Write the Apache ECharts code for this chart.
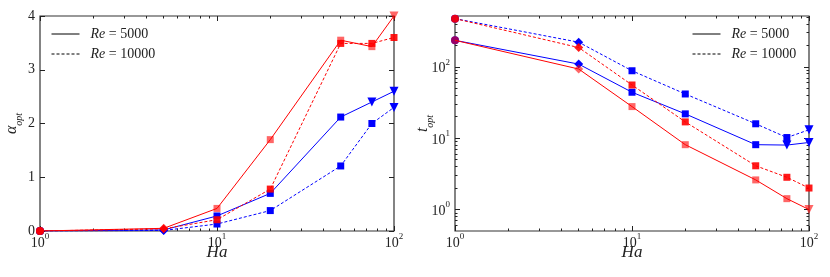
<!DOCTYPE html>
<html><head><meta charset="utf-8">
<script src="https://cdn.jsdelivr.net/npm/echarts@6/dist/echarts.min.js"></script>
<style>html,body{margin:0;padding:0;background:#fff}#c{width:830px;height:277px}</style>
</head><body><div id="c"></div>
<script>
const ha = [1, 5, 10, 20, 50, 75, 100];
// alpha_opt (left)
const alphaRe5000A = [0, 0.05, 0.42, 1.70, 3.55, 3.43, 4.00];
const alphaRe10000A = [0, 0.04, 0.21, 0.78, 3.49, 3.49, 3.60];
const alphaRe5000B = [0, 0.02, 0.28, 0.70, 2.12, 2.40, 2.60];
const alphaRe10000B = [0, 0.01, 0.13, 0.38, 1.21, 2.00, 2.30];
// t_opt (right)
const tRe5000A = [235, 93, 27.7, 8.1, 2.6, 1.42, 1.0];
const tRe10000A = [473, 186, 55.6, 16.9, 4.1, 2.83, 2.0];
const tRe5000B = [235, 109, 44, 21.9, 8.1, 8.0, 8.7];
const tRe10000B = [473, 221, 88, 41.6, 15.9, 10.2, 13.1];
const markers = ['circle', 'diamond', 'rect', 'rect', 'rect', 'rect', 'rect'];
const lastMarkers = {
  aR5: ['rect', 'triangle-down'], aR10: ['rect', 'rect'], aB5: ['triangle-down', 'triangle-down'], aB10: ['rect', 'triangle-down'],
  tR5: ['rect', 'triangle-down'], tR10: ['rect', 'rect'], tB5: ['triangle-down', 'triangle-down'], tB10: ['rect', 'triangle-down']
};
const xMajor = [1, 10, 100];
const xMinor = [2,3,4,5,6,7,8,9,20,30,40,50,60,70,80,90];
const tMajor = [1, 10, 100];
const tMinor = [0.6,0.7,0.8,0.9,2,3,4,5,6,7,8,9,20,30,40,50,60,70,80,90,200,300,400,500];
const legendNames = ['Re = 5000', 'Re = 10000'];

const FONT = 'Liberation Serif';
const AX = '#222';
function sup(v) {
  const e = Math.round(Math.log10(v));
  return '{b|10}{s|' + e + '}';
}
const supRich = {
  b: { fontSize: 14, fontFamily: FONT, color: '#222', lineHeight: 18, verticalAlign: 'bottom' },
  s: { fontSize: 9, fontFamily: FONT, color: '#222', lineHeight: 10, verticalAlign: 'top' }
};

function xAxes(gi) {
  const base = { type: 'log', logBase: 10, min: 1, max: 100, gridIndex: gi, splitLine: { show: false } };
  return [
    Object.assign({}, base, {
      position: 'bottom',
      axisLine: { show: false },
      axisTick: { show: true, inside: true, length: 5, customValues: xMajor, lineStyle: { color: AX } },
      axisLabel: { show: true, customValues: xMajor, formatter: sup, margin: 1, fontFamily: FONT, fontSize: 14, color: '#222', rich: supRich },
      name: '{i|Ha}', nameLocation: 'middle', nameGap: 13, nameMoveOverlap: false,
      nameTextStyle: { rich: { i: { fontFamily: FONT, fontStyle: 'italic', fontSize: 17, color: '#222' } } }
    }),
    Object.assign({}, base, {
      position: 'bottom', axisLine: { show: false }, axisLabel: { show: false },
      axisTick: { show: true, inside: true, length: 2.5, customValues: xMinor, lineStyle: { color: AX } }
    }),
    Object.assign({}, base, {
      position: 'top', axisLine: { show: false }, axisLabel: { show: false },
      axisTick: { show: true, inside: true, length: 5, customValues: xMajor, lineStyle: { color: AX } }
    }),
    Object.assign({}, base, {
      position: 'top', axisLine: { show: false }, axisLabel: { show: false },
      axisTick: { show: true, inside: true, length: 2.5, customValues: xMinor, lineStyle: { color: AX } }
    })
  ];
}

const grids = [
  { left: 40, top: 16, width: 354, height: 215, show: true, borderColor: '#333', borderWidth: 1.2, backgroundColor: 'transparent' },
  { left: 455, top: 16, width: 354, height: 215, show: true, borderColor: '#333', borderWidth: 1.2, backgroundColor: 'transparent' }
];

const xAxis = xAxes(0).concat(xAxes(1));

const yLeftBase = { type: 'value', min: 0, max: 4, interval: 1, gridIndex: 0, splitLine: { show: false } };
const yRightBase = { type: 'log', logBase: 10, min: 0.5, max: 515, gridIndex: 1, splitLine: { show: false } };
const nameRich = {
  a: { fontFamily: FONT, fontStyle: 'italic', fontSize: 16, color: '#222', lineHeight: 20, verticalAlign: 'top' },
  s: { fontFamily: FONT, fontStyle: 'italic', fontSize: 10, color: '#222', lineHeight: 10, verticalAlign: 'bottom' }
};
const yAxis = [
  Object.assign({}, yLeftBase, {
    position: 'left', axisLine: { show: false },
    axisTick: { show: true, inside: true, length: 5, lineStyle: { color: AX } },
    axisLabel: { margin: 5, fontFamily: FONT, fontSize: 14, color: '#222' },
    name: '{a|α}{s|opt}', nameLocation: 'middle', nameGap: 16, nameRotate: 90, nameMoveOverlap: false,
    nameTextStyle: { rich: nameRich }
  }),
  Object.assign({}, yLeftBase, {
    position: 'right', axisLine: { show: false }, axisLabel: { show: false },
    axisTick: { show: true, inside: true, length: 5, lineStyle: { color: AX } }
  }),
  Object.assign({}, yRightBase, {
    position: 'left', axisLine: { show: false },
    axisTick: { show: true, inside: true, length: 5, customValues: tMajor, lineStyle: { color: AX } },
    axisLabel: { customValues: tMajor, formatter: sup, margin: 5, fontFamily: FONT, fontSize: 14, color: '#222', rich: supRich },
    name: '{a|t}{s|opt}', nameLocation: 'middle', nameGap: 20, nameRotate: 90, nameMoveOverlap: false,
    nameTextStyle: { rich: nameRich }
  }),
  Object.assign({}, yRightBase, {
    position: 'left', axisLine: { show: false }, axisLabel: { show: false },
    axisTick: { show: true, inside: true, length: 2.5, customValues: tMinor, lineStyle: { color: AX } }
  }),
  Object.assign({}, yRightBase, {
    position: 'right', axisLine: { show: false }, axisLabel: { show: false },
    axisTick: { show: true, inside: true, length: 5, customValues: tMajor, lineStyle: { color: AX } }
  }),
  Object.assign({}, yRightBase, {
    position: 'right', axisLine: { show: false }, axisLabel: { show: false },
    axisTick: { show: true, inside: true, length: 2.5, customValues: tMinor, lineStyle: { color: AX } }
  })
];

function mk(name, vals, color, dashed, lastSyms, xi, yi, alpha, z) {
  const data = ha.map((h, i) => {
    let sym = markers[i];
    if (i === 5) sym = lastSyms[0];
    if (i === 6) sym = lastSyms[1];
    const down = sym === 'triangle-down';
    if (down) sym = 'triangle';
    return { value: [h, vals[i]], symbol: sym, symbolRotate: down ? 180 : 0,
      symbolSize: sym === 'diamond' ? 9 : (sym === 'circle' ? 8 : (sym === 'triangle' ? 9 : 7)) };
  });
  return {
    type: 'line', name: name, xAxisIndex: xi, yAxisIndex: yi, data: data, z: z,
    lineStyle: { color: color, width: 1, type: dashed ? [3, 2] : 'solid' },
    itemStyle: { color: color, opacity: alpha, borderWidth: 0 },
    emphasis: { disabled: true }, silent: true
  };
}
const RED = '#ff0000', BLUE = '#0000ff';
const series = [
  mk('aB10', alphaRe10000B, BLUE, true, lastMarkers.aB10, 0, 0, 1, 2),
  mk('aB5', alphaRe5000B, BLUE, false, lastMarkers.aB5, 0, 0, 1, 2),
  mk('aR10', alphaRe10000A, RED, true, lastMarkers.aR10, 0, 0, 0.9, 3),
  mk('aR5', alphaRe5000A, RED, false, lastMarkers.aR5, 0, 0, 0.6, 3),
  mk('tB10', tRe10000B, BLUE, true, lastMarkers.tB10, 4, 2, 1, 2),
  mk('tB5', tRe5000B, BLUE, false, lastMarkers.tB5, 4, 2, 1, 2),
  mk('tR10', tRe10000A, RED, true, lastMarkers.tR10, 4, 2, 0.9, 3),
  mk('tR5', tRe5000A, RED, false, lastMarkers.tR5, 4, 2, 0.6, 3),
  // legend-only entries (Re line styles)
  { type: 'line', name: legendNames[0], xAxisIndex: 0, yAxisIndex: 0, data: [], symbol: 'none', lineStyle: { color: '#000', width: 1, type: 'solid' }, itemStyle: { color: '#000' } },
  { type: 'line', name: legendNames[1], xAxisIndex: 0, yAxisIndex: 0, data: [], symbol: 'none', lineStyle: { color: '#000', width: 1, type: [3, 2] }, itemStyle: { color: '#000' } }
];

const legendCommon = {
  data: legendNames, orient: 'vertical', itemWidth: 28, itemHeight: 12, itemGap: 6,
  selectedMode: false, padding: 0,
  itemStyle: { opacity: 0 },
  lineStyle: { width: 1 },
  formatter: n => '{i|Re} = ' + n.split('= ')[1],
  textStyle: { fontFamily: FONT, fontSize: 14, color: '#222', padding: [0, 0, 0, 6],
    rich: { i: { fontFamily: FONT, fontStyle: 'italic', fontSize: 14, color: '#222' } } }
};
const option = {
  animation: false,
  grid: grids,
  xAxis: xAxis,
  yAxis: yAxis,
  legend: [
    Object.assign({}, legendCommon, { left: 51, top: 27 }),
    Object.assign({}, legendCommon, { left: 692, top: 27 })
  ],
  series: series
};
const chart = echarts.init(document.getElementById('c'), null, { renderer: 'canvas' });
chart.setOption(option);
</script></body></html>
